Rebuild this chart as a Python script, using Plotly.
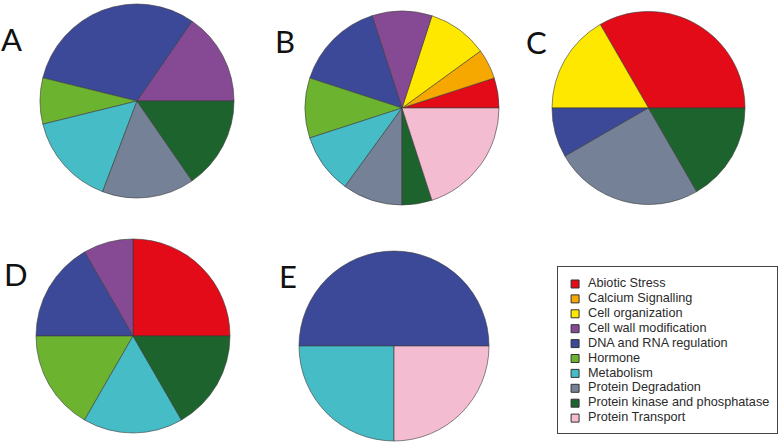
import plotly.graph_objects as go

W, H = 779, 444

categories = ["Abiotic Stress", "Calcium Signalling", "Cell organization",
              "Cell wall modification", "DNA and RNA regulation", "Hormone",
              "Metabolism", "Protein Degradation", "Protein kinase and phosphatase",
              "Protein Transport"]
colors = ["#E20B17", "#F6A800", "#FFE800", "#864A95", "#3C4898", "#6CB42F",
          "#45BCC6", "#758196", "#1C632D", "#F4BCD1"]

panel_names = ["A", "B", "C", "D", "E"]
values_A = [0, 0, 0, 2, 4, 1, 2, 2, 2, 0]
values_B = [1, 1, 2, 2, 3, 2, 2, 2, 1, 4]
values_C = [4, 0, 2, 0, 1, 0, 0, 3, 2, 0]
values_D = [3, 0, 0, 1, 2, 2, 2, 0, 2, 0]
values_E = [0, 0, 0, 0, 2, 0, 1, 0, 0, 1]
panel_values = [values_A, values_B, values_C, values_D, values_E]

# layout: pie centre (px) and radius (px)
pie_geom = {"A": (137, 101, 97), "B": (402, 108, 97), "C": (648.5, 108, 96.5),
            "D": (133, 336, 97), "E": (394, 346, 95)}
label_pos = {"A": (11, 39), "B": (285, 41), "C": (536, 42), "D": (16, 274), "E": (288, 276)}

fig = go.Figure()

for name, vals in zip(panel_names, panel_values):
    labs = [c for c, v in zip(categories, vals) if v > 0]
    cols = [col for col, v in zip(colors, vals) if v > 0]
    vs = [v for v in vals if v > 0]
    cx, cy, r = pie_geom[name]
    # start first slice at 3 o'clock going counter-clockwise (as R's pie)
    rot = 90 - 360.0 * vs[0] / sum(vs)
    fig.add_trace(go.Pie(
        labels=labs, values=vs, sort=False, direction="counterclockwise",
        rotation=rot, textinfo="none", showlegend=False,
        marker=dict(colors=cols, line=dict(color="#3a3a3a", width=0.6)),
        domain=dict(x=[(cx - r) / W, (cx + r) / W],
                    y=[1 - (cy + r) / H, 1 - (cy - r) / H]),
        hoverinfo="label+value", name=name,
    ))

# legend drawn as scatter traces on their own small axis
ys = list(range(len(categories)))
fig.add_trace(go.Scatter(
    x=[0.078] * len(categories), y=ys, mode="markers",
    marker=dict(symbol="square", size=8, color=colors, line=dict(color="#333333", width=1)),
    showlegend=False, hoverinfo="skip", cliponaxis=False,
))
fig.add_trace(go.Scatter(
    x=[0.137] * len(categories), y=ys, mode="text", text=categories,
    textposition="middle right",
    textfont=dict(family="Liberation Sans, Arial, sans-serif", size=12.7, color="#2b2b2b"),
    showlegend=False, hoverinfo="text", cliponaxis=False,
))

for name in panel_names:
    x, y = label_pos[name]
    fig.add_annotation(x=x / W, y=1 - y / H, xref="paper", yref="paper",
                       text=name, showarrow=False, xanchor="center", yanchor="middle",
                       font=dict(family="Lato, Open Sans, sans-serif", size=31, color="#111111"))

fig.update_layout(
    width=W, height=H, margin=dict(l=0, r=0, t=0, b=0),
    paper_bgcolor="white", plot_bgcolor="white",
    xaxis=dict(domain=[558 / W, 777 / W], range=[0, 1], showgrid=False, zeroline=False,
               showticklabels=False, ticks="", showline=True, mirror=True,
               linecolor="#444444", linewidth=1, fixedrange=True),
    yaxis=dict(domain=[1 - 433 / H, 1 - 267 / H], range=[10.0, -1.14], showgrid=False,
               zeroline=False, showticklabels=False, ticks="", showline=True, mirror=True,
               linecolor="#444444", linewidth=1, fixedrange=True),
)

fig.write_html("out.html", config={"displayModeBar": False},
               post_script="document.body.style.margin='0';document.body.style.overflow='hidden';")
